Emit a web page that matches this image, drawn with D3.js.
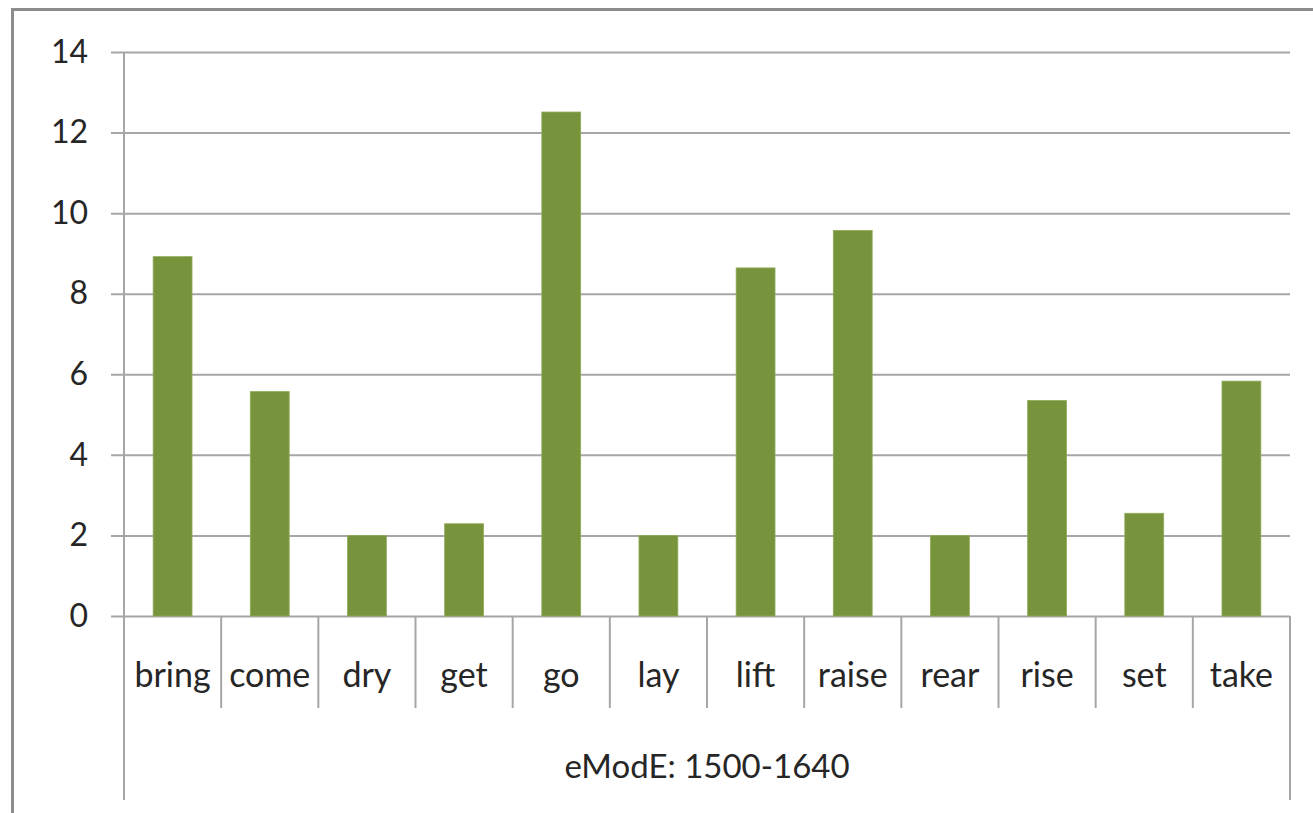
<!DOCTYPE html>
<html>
<head>
<meta charset="utf-8">
<script src="https://cdn.jsdelivr.net/npm/d3@7"></script>
<style>
  html, body { margin: 0; padding: 0; background: #fff; }
  svg { display: block; }
  text { font-family: Lato, "Open Sans", sans-serif; fill: #262626; }
</style>
</head>
<body>
<svg id="chart" width="1313" height="813"></svg>
<script>
// Verb frequencies, early Modern English period
const verbs = ["bring", "come", "dry", "get", "go", "lay", "lift", "raise", "rear", "rise", "set", "take"];
const frequency = [8.92, 5.57, 2.0, 2.29, 12.51, 2.0, 8.64, 9.57, 2.0, 5.35, 2.55, 5.83];
const yTicks = [0, 2, 4, 6, 8, 10, 12, 14];
const periodLabel = "eModE: 1500-1640";

const svg = d3.select("#chart");
const W = 1313, H = 813;

const margin = { left: 124, right: W - 1290, top: 52, bottom: H - 616 };
const x0 = margin.left, x1 = W - margin.right;
const y0 = H - margin.bottom, y1 = margin.top;

const gridColor = "#a6a6a6";

// outer chart frame
svg.append("rect")
  .attr("x", 12.5).attr("y", 9.5)
  .attr("width", W + 20).attr("height", H + 20)
  .attr("fill", "none")
  .attr("stroke", "#8c8c8c")
  .attr("stroke-width", 3);

const x = d3.scaleBand()
  .domain(verbs)
  .range([x0, x1])
  .paddingInner(0.6)
  .paddingOuter(0.3);

const band = d3.scaleBand().domain(verbs).range([x0, x1]);

const y = d3.scaleLinear().domain([0, 14]).range([y0, y1]);

// horizontal gridlines with small outward ticks
const yAxis = d3.axisLeft(y)
  .tickValues(yTicks)
  .tickSize(-(x1 - x0))
  .tickSizeOuter(0)
  .tickPadding(36);

const gy = svg.append("g")
  .attr("transform", `translate(${x0},0)`)
  .call(yAxis);
gy.select(".domain").remove();
gy.selectAll(".tick line")
  .attr("x1", -13)
  .attr("stroke", gridColor)
  .attr("stroke-width", 2);
gy.selectAll(".tick text")
  .attr("font-size", 32)
  .attr("fill", "#262626")
  .style("font-family", "Lato, sans-serif");

// vertical value axis line
svg.append("line")
  .attr("x1", x0).attr("x2", x0)
  .attr("y1", y1).attr("y2", 800)
  .attr("stroke", gridColor).attr("stroke-width", 2);

// bars
svg.append("g").selectAll("rect")
  .data(verbs.map((v, i) => ({ verb: v, value: frequency[i] })))
  .join("rect")
  .attr("x", d => x(d.verb))
  .attr("width", x.bandwidth())
  .attr("y", d => y(d.value))
  .attr("height", d => y(0) - y(d.value))
  .attr("fill", "#77933c")
  .attr("stroke", "#8fab58")
  .attr("stroke-width", 0.8);

// category separators
const seps = verbs.slice(1).map(v => band(v));
svg.append("g").selectAll("line")
  .data(seps)
  .join("line")
  .attr("x1", d => d).attr("x2", d => d)
  .attr("y1", y0).attr("y2", 708)
  .attr("stroke", gridColor).attr("stroke-width", 2);

// right edge of category axis
svg.append("line")
  .attr("x1", x1).attr("x2", x1)
  .attr("y1", y0).attr("y2", 800)
  .attr("stroke", gridColor).attr("stroke-width", 2);

// category labels
svg.append("g").selectAll("text")
  .data(verbs)
  .join("text")
  .attr("x", d => band(d) + band.bandwidth() / 2)
  .attr("y", 687)
  .attr("text-anchor", "middle")
  .attr("font-size", 34)
  .text(d => d);

// period label
svg.append("text")
  .attr("x", (x0 + x1) / 2)
  .attr("y", 778)
  .attr("text-anchor", "middle")
  .attr("font-size", 33)
  .text(periodLabel);
</script>
</body>
</html>
